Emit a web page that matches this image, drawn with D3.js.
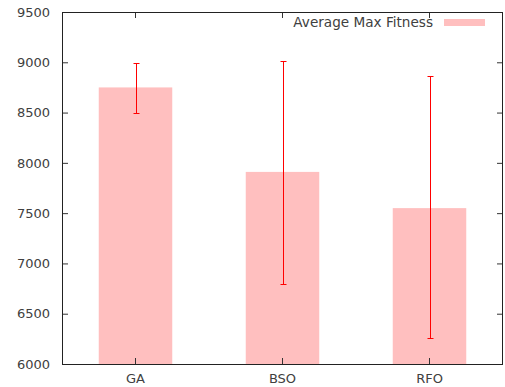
<!DOCTYPE html>
<html>
<head>
<meta charset="utf-8">
<script src="https://cdn.jsdelivr.net/npm/d3@7"></script>
<style>
  body { margin: 0; background: #fff; }
  text { font-family: "DejaVu Sans", sans-serif; font-size: 13px; fill: #404040; }
</style>
</head>
<body>
<div id="chart"></div>
<script>
var categories = ["GA", "BSO", "RFO"];
var avgMax = [8750, 7910, 7550];
var errLow = [8500, 6800, 6255];
var errHigh = [8990, 9010, 8860];
var yTicks = [6000, 6500, 7000, 7500, 8000, 8500, 9000, 9500];
var seriesName = "Average Max Fitness";

var W = 505, H = 387;
var m = {left: 62, right: 2, top: 12, bottom: 23};

var svg = d3.select("#chart").append("svg").attr("width", W).attr("height", H);

var x = d3.scaleBand().domain(categories).range([m.left, W - m.right]).paddingInner(0).paddingOuter(0);
var y = d3.scaleLinear().domain([6000, 9500]).range([H - m.bottom, m.top]);

var bw = x.bandwidth() * 0.5;
function mid(d){ return x(d) + x.bandwidth()/2; }

// bars
svg.selectAll(".bar").data(categories).enter().append("rect").attr("class", "bar")
  .attr("x", function(d){ return mid(d) - bw/2; })
  .attr("width", bw)
  .attr("y", function(d,i){ return y(avgMax[i]); })
  .attr("height", function(d,i){ return y(6000) - y(avgMax[i]); })
  .style("fill", "#ffbfbf");

// error bars, one path each: vertical line + two caps
svg.selectAll(".err").data(categories).enter().append("path").attr("class", "err")
  .attr("d", function(d,i){
    var c = Math.round(mid(d)) + 0.5;
    var lo = Math.round(y(errLow[i])) + 0.5, hi = Math.round(y(errHigh[i])) + 0.5;
    return "M" + c + "," + lo + "V" + hi +
      "M" + (c - 3) + "," + lo + "H" + (c + 3) +
      "M" + (c - 3) + "," + hi + "H" + (c + 3);
  })
  .attr("fill", "none")
  .attr("stroke", "rgb(255,0,0)")
  .attr("stroke-width", 1);

// axes
var leftAxis = d3.axisLeft(y).tickValues(yTicks).tickSize(-6).tickPadding(12).tickFormat(d3.format("d"));
var gl = svg.append("g").attr("transform", "translate(" + m.left + ",0)").call(leftAxis);
var rightAxis = d3.axisRight(y).tickValues(yTicks).tickSize(-6).tickFormat("");
var gr = svg.append("g").attr("transform", "translate(" + (W - m.right) + ",0)").call(rightAxis);
var bottomAxis = d3.axisBottom(x).tickSize(-6).tickPadding(10);
var gb = svg.append("g").attr("transform", "translate(0," + (H - m.bottom) + ")").call(bottomAxis);
var topAxis = d3.axisTop(x).tickSize(-6).tickFormat("");
var gt = svg.append("g").attr("transform", "translate(0," + m.top + ")").call(topAxis);

[gl, gr, gb, gt].forEach(function(g){
  g.select(".domain").remove();
  g.selectAll(".tick line").attr("stroke", "#333");
  g.selectAll("text").style("font-family", "DejaVu Sans, sans-serif").style("font-size", "13px").attr("fill", "#404040");
});

// frame
svg.append("rect").attr("x", m.left + 0.5).attr("y", m.top + 0.5)
  .attr("width", W - m.left - m.right - 1).attr("height", H - m.top - m.bottom)
  .attr("fill", "none").attr("stroke", "#222").attr("stroke-width", 1);

// legend
svg.append("text").attr("x", 433).attr("y", 27).attr("text-anchor", "end")
  .style("font-size", "13.6px").text(seriesName);
svg.append("rect").attr("x", 444).attr("y", 19).attr("width", 41).attr("height", 7).style("fill", "#ffbfbf");
</script>
</body>
</html>
